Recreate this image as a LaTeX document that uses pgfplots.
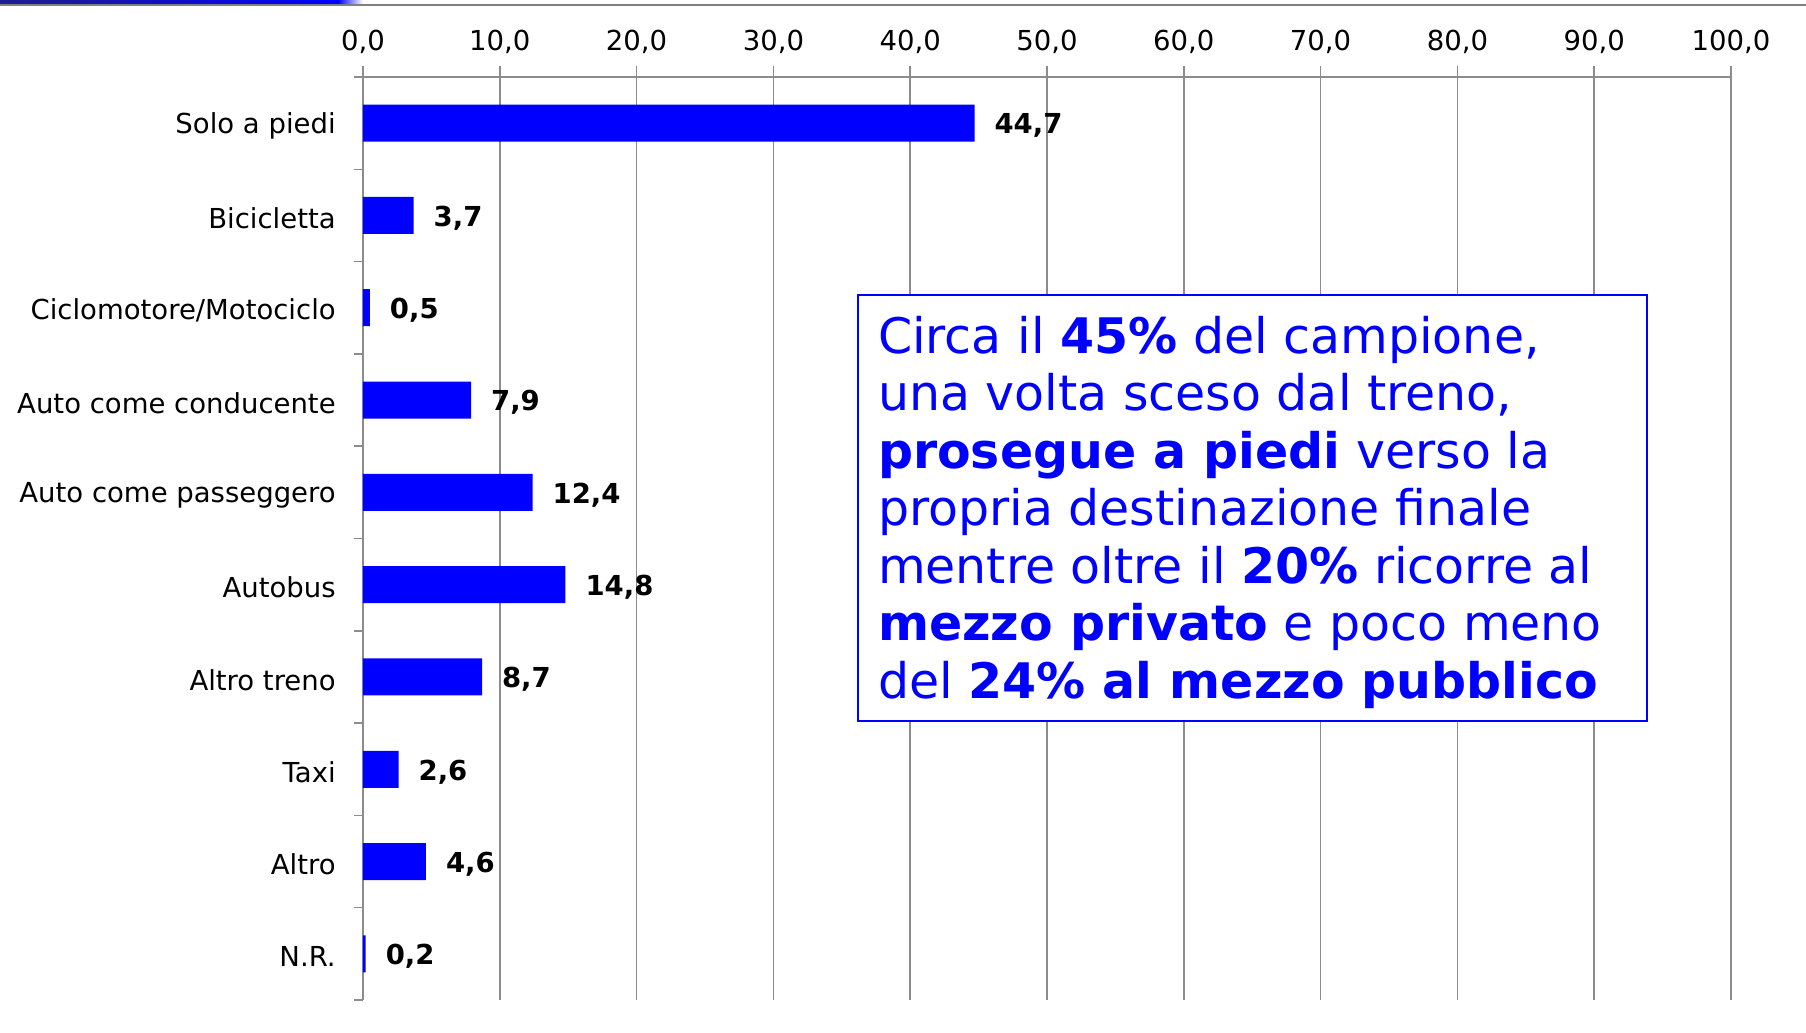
\documentclass[border=0pt]{standalone}
\usepackage{pgfplots}
\pgfplotsset{compat=1.18}
\usepackage{fontspec}
\setmainfont{DejaVu Sans}
\definecolor{barblue}{RGB}{0,0,255}
\definecolor{gridgray}{RGB}{140,140,140}
\definecolor{navy}{RGB}{30,30,140}
\begin{document}
\begin{tikzpicture}
\path[use as bounding box] (-145.2pt,-12.8pt) rectangle (577.2pt,400pt);
\shade[left color=navy, right color=barblue] (-145.2pt,398.4pt) rectangle (-10pt,400pt);
\shade[left color=barblue, right color=white] (-10pt,398.4pt) rectangle (0pt,400pt);
\draw[gray, line width=0.6pt] (-145.2pt,398pt) -- (577.2pt,398pt);
\begin{axis}[
  at={(0,0)}, anchor=south west,
  width=547.2pt, height=369.2pt, scale only axis,
  xbar, bar width=14.8pt,
  xmin=0, xmax=100, ymin=-0.5, ymax=9.5,
  axis x line*=top, axis y line*=left,
  axis line style={gridgray, line width=0.6pt, -},
  xtick={0,10,...,100},
  xmajorgrids, grid style={gridgray, line width=0.6pt},
  tick align=outside,
  major tick length=4.4pt,
  major x tick style={gridgray, line width=0.6pt},
  ytick={0,...,9},
  yticklabels={N.R.,Altro,Taxi,Altro treno,Autobus,Auto come passeggero,Auto come conducente,Ciclomotore/Motociclo,Bicicletta,Solo a piedi},
  major y tick style={draw=none},
  minor ytick={-0.5,0.5,...,9.5},
  minor y tick style={gridgray, line width=0.6pt},
  minor tick length=3.6pt,
  tick label style={font=\fontsize{11}{13}\selectfont, black},
  y tick label style={xshift=-3pt, yshift=-1.2pt},
  x tick label style={yshift=1.3pt, /pgf/number format/.cd, fixed, fixed zerofill, precision=1, use comma, assume math mode=true, /tikz/.cd},
  point meta=x,
  nodes near coords={\pgfmathprintnumber[fixed,fixed zerofill,precision=1,use comma,assume math mode=true]{\pgfplotspointmeta}},
  nodes near coords align=horizontal,
  every node near coord/.append style={font=\fontsize{11}{13}\selectfont\bfseries, black, anchor=west, xshift=4.5pt, yshift=-1pt},
]
\addplot[fill=barblue, draw=none] coordinates {
  (0.2,0) (4.6,1) (2.6,2) (8.7,3) (14.8,4) (12.4,5) (7.9,6) (0.5,7) (3.7,8) (44.7,9)
};
\end{axis}
\draw[barblue, line width=0.8pt, fill=white] (198pt,111.6pt) rectangle (513.6pt,282pt);
\node[anchor=north west, inner sep=0pt, align=left, text=barblue, font=\fontsize{19.6}{23}\selectfont] at (205.8pt,273.8pt) {Circa il \textbf{45\%} del campione,\\una volta sceso dal treno,\\\textbf{prosegue a piedi} verso la\\propria destinazione finale\\mentre oltre il \textbf{20\%} ricorre al\\\textbf{mezzo privato} e poco meno\\del \textbf{24\% al mezzo pubblico}};
\end{tikzpicture}
\end{document}
